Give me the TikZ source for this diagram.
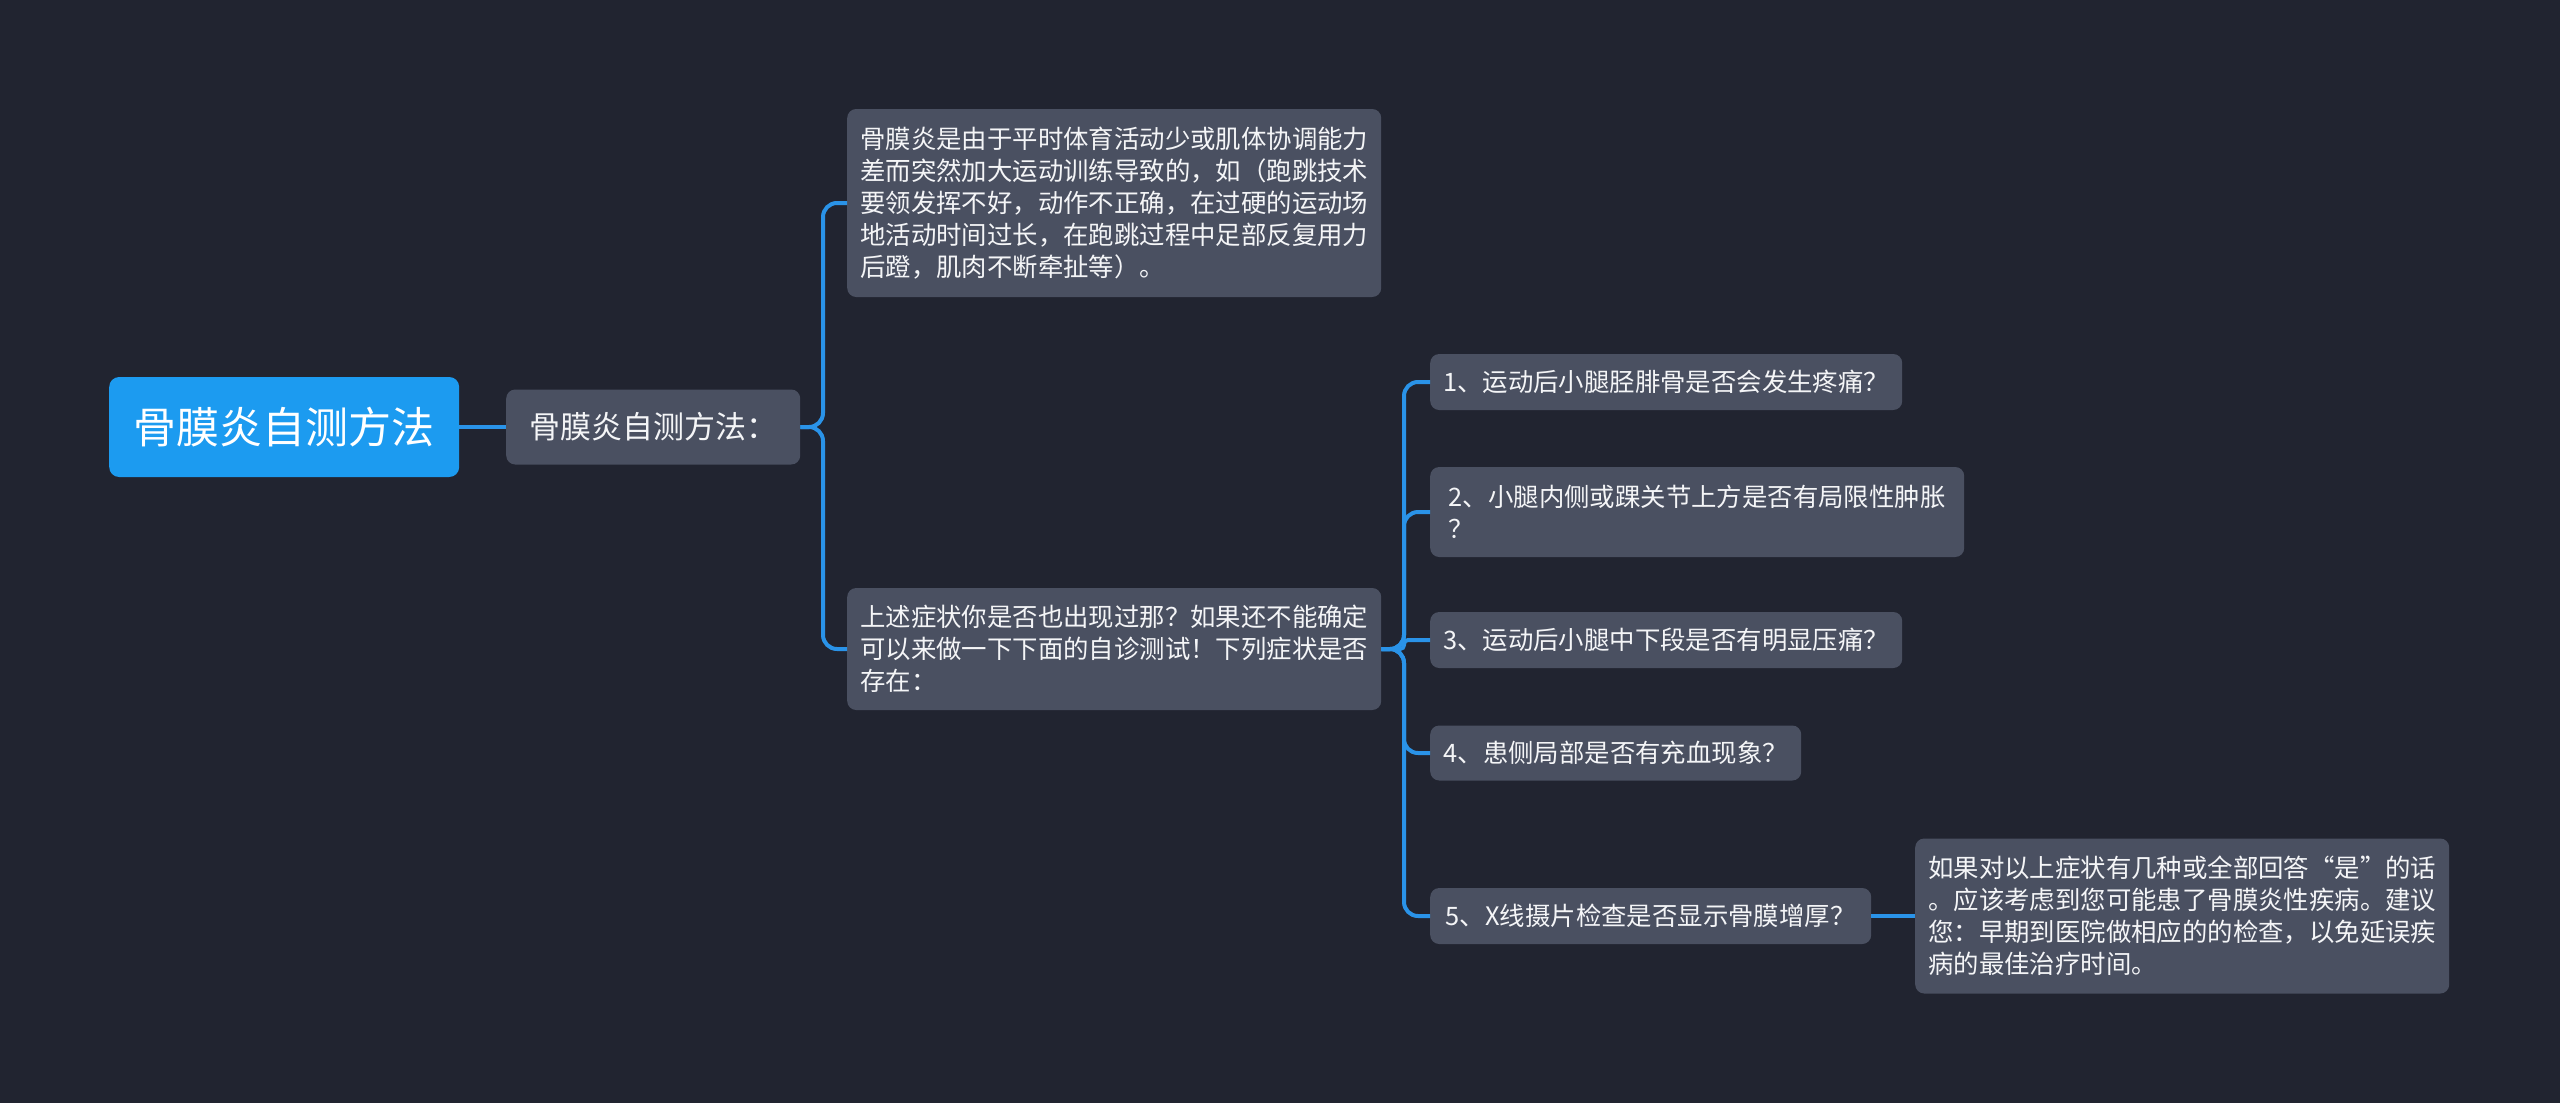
\documentclass[tikz,border=0pt]{standalone}
\usepackage{fontspec}
\setmainfont{Noto Sans CJK SC}
\definecolor{bgcolor}{HTML}{212430}
\definecolor{rootblue}{HTML}{1C9BF0}
\definecolor{boxgray}{HTML}{4A5061}
\definecolor{linkblue}{HTML}{2A93E8}
\definecolor{textwhite}{HTML}{F4F5F7}
\begin{document}
\begin{tikzpicture}[x=1pt, y=-1pt,
    topic/.style={rounded corners=10pt, fill=rootblue, text=white, inner sep=0pt, anchor=west,
        font=\fontsize{43}{52}\selectfont},
    leaf/.style={rounded corners=9pt, fill=boxgray, text=textwhite, inner sep=0pt, anchor=west,
        align=left, font=\fontsize{25.4}{31.9}\selectfont},
    link/.style={draw=linkblue, line width=4pt, rounded corners=14pt}]
    \fill[bgcolor] (0,0) rectangle (2560,1103);
    \useasboundingbox (0,0) rectangle (2560,1103);
    % 中心主题
    \node[topic, minimum width=350pt, minimum height=100pt] (title) at (109,427) {骨膜炎自测方法};
    \node[leaf, minimum width=294pt, minimum height=75pt, font=\fontsize{31}{38}\selectfont] (method) at (506,427) {骨膜炎自测方法：};
    % 第二层
    \node[leaf, minimum width=534pt, minimum height=188pt] (cause) at (847,203) {骨膜炎是由于平时体育活动少或肌体协调能力\\差而突然加大运动训练导致的，如（跑跳技术\\要领发挥不好，动作不正确，在过硬的运动场\\地活动时间过长，在跑跳过程中足部反复用力\\后蹬，肌肉不断牵扯等）。};
    \node[leaf, minimum width=534pt, minimum height=122pt] (check) at (847,649) {上述症状你是否也出现过那？如果还不能确定\\可以来做一下下面的自诊测试！下列症状是否\\存在：};
    % 自诊问题
    \node[leaf, minimum width=472pt, minimum height=56pt] (q1) at (1430,382) {1、运动后小腿胫腓骨是否会发生疼痛？};
    \node[leaf, minimum width=534pt, minimum height=90pt] (q2) at (1430,512) {2、小腿内侧或踝关节上方是否有局限性肿胀\\？};
    \node[leaf, minimum width=472pt, minimum height=56pt] (q3) at (1430,640) {3、运动后小腿中下段是否有明显压痛？};
    \node[leaf, minimum width=371pt, minimum height=55pt] (q4) at (1430,753) {4、患侧局部是否有充血现象？};
    \node[leaf, minimum width=441pt, minimum height=56pt] (q5) at (1430,916) {5、X线摄片检查是否显示骨膜增厚？};
    \node[leaf, minimum width=534pt, minimum height=155pt] (advice) at (1915,916) {如果对以上症状有几种或全部回答“是”的话\\。应该考虑到您可能患了骨膜炎性疾病。建议\\您：早期到医院做相应的的检查，以免延误疾\\病的最佳治疗时间。};
    % 连线
    \coordinate (fork1) at (823,427);
    \coordinate (fork2) at (1404,649);
    \draw[link] (title.east) -- (method.west);
    \foreach \kid in {cause, check}
        \draw[link] (method.east) -- (fork1) |- (\kid.west);
    \foreach \kid in {q1, q2, q4, q5}
        \draw[link] (check.east) -- (fork2) |- (\kid.west);
    \draw[link, rounded corners=4pt] (check.east) -- (fork2) |- (q3.west);
    \draw[link] (q5.east) -- (advice.west);
\end{tikzpicture}
\end{document}
